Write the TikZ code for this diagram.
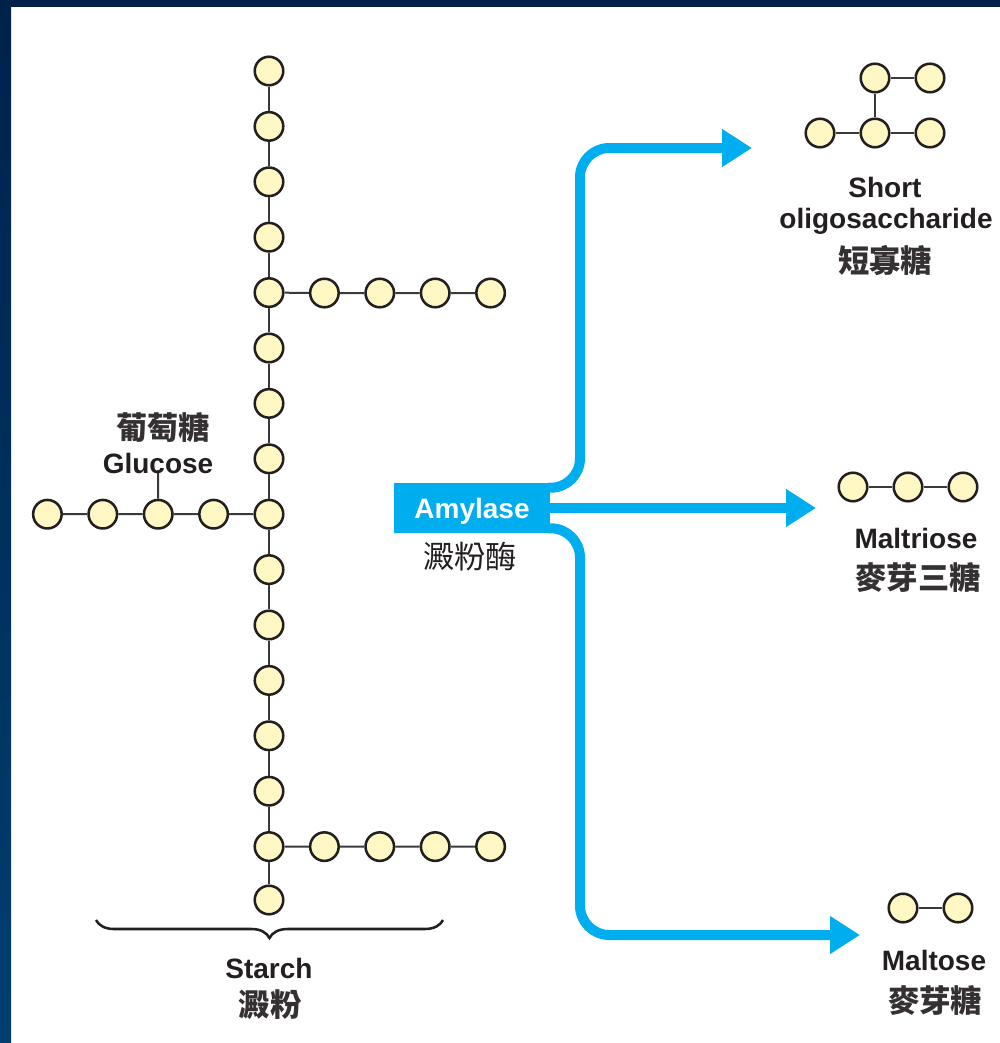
\documentclass[tikz,border=0pt]{standalone}
\usepackage{fontspec}
\setmainfont{Liberation Sans}
\newfontfamily\cjk{Noto Sans CJK TC}
\usetikzlibrary{arrows.meta,decorations.pathreplacing,calc}
\definecolor{navyA}{HTML}{00224A}
\definecolor{navyB}{HTML}{003F70}
\definecolor{cyanF}{HTML}{00AEEF}
\definecolor{sugar}{HTML}{FFF8C4}
\definecolor{ink}{HTML}{231F20}
\definecolor{bondc}{HTML}{3A3A3A}
\begin{document}
\begin{tikzpicture}[x=0.75pt,y=-0.75pt,
  glc/.style={circle,draw=ink,fill=sugar,line width=1.9pt,minimum size=21.4pt,inner sep=0pt},
  bond/.style={draw=bondc,line width=1.5pt},
  flow/.style={draw=cyanF,line width=7.5pt,-{Triangle[length=22.5pt,width=27pt]}},
  lab/.style={font=\bfseries\fontsize{21}{25}\selectfont,text=ink,inner sep=0pt,anchor=base},
  cjklab/.style={font=\cjk\bfseries\fontsize{23.5}{28}\selectfont,text=ink!92,inner sep=0pt},
  cjkreg/.style={font=\cjk\fontsize{23.5}{28}\selectfont,text=ink,inner sep=0pt},
  enzbox/.style={fill=cyanF,text=white,font=\bfseries\fontsize{21}{25}\selectfont,
    minimum width=117pt,minimum height=37.5pt,inner sep=0pt,text height=15pt,text depth=0pt},
]
\useasboundingbox (0,0) rectangle (1000,1043);
\fill[white] (0,0) rectangle (1000,1043);
\shade[top color=navyA,bottom color=navyB] (0,0) rectangle (11,1043);
\fill[navyA] (0,0) rectangle (1000,7);

% starch main chain
\foreach \i in {0,...,14} \node[glc] (s\i) at (269,{71+\i*55.4}) {};
\node[glc] (s15) at (269,900) {};
\foreach \i [count=\j] in {0,...,14} \draw[bond] (s\i) -- (s\j);
% branches
\foreach \k in {1,...,4} {
  \node[glc] (a\k) at ({269+\k*55.4},293) {};
  \node[glc] (b\k) at ({269+\k*55.4},846.6) {};
  \node[glc] (l\k) at ({269-\k*55.4},514.2) {};
}
\draw[bond] (s4) -- (a1) -- (a2) -- (a3) -- (a4);
\draw[bond] (s14) -- (b1) -- (b2) -- (b3) -- (b4);
\draw[bond] (s8) -- (l1) -- (l2) -- (l3) -- (l4);

% glucose label
\coordinate (gtip) at (158,470);
\draw[bond] (l2) -- (gtip);
\node[cjklab] (tglcz) at (163,427) {葡萄糖};
\node[lab] (tglc) at (158,473) {Glucose};

% brace
\draw[ink,line width=1.9pt,decorate,decoration={brace,mirror,amplitude=13.5pt}] (96,920) -- (443,920);
\node[lab] (tstarch) at (269,978) {Starch};
\node[cjklab] (tstarchz) at (270,1005) {澱粉};

% amylase
\node[enzbox] (amy) at (472,508) {Amylase};
\node[cjkreg] (amyz) at (470,557) {澱粉酶};

\coordinate (tipA) at (752,148);
\coordinate (tipB) at (816,508);
\coordinate (tipC) at (860,935);
\coordinate (trunk) at (580,508);
\draw[flow,rounded corners=22pt] ([xshift=-1.5pt,yshift=-3.75pt]amy.north east) -| (trunk |- tipA) -- (tipA);
\draw[flow] ([xshift=-1.5pt]amy.east) -- (tipB);
\draw[flow,rounded corners=22pt] ([xshift=-1.5pt,yshift=3.75pt]amy.south east) -| (trunk |- tipC) -- (tipC);

% short oligosaccharide
\node[glc] (o1) at (820,133) {};
\node[glc] (o2) at (875,133) {};
\node[glc] (o3) at (930,133) {};
\node[glc] (o4) at (875,78) {};
\node[glc] (o5) at (930,78) {};
\draw[bond] (o1) -- (o2) -- (o3);
\draw[bond] (o2) -- (o4) -- (o5);
\node[lab] (tshort) at (885,197) {Short};
\node[lab] (toligo) at (886,228) {oligosaccharide};
\node[cjklab] (toligoz) at (885,261) {短寡糖};

% maltriose
\node[glc] (t1) at (853,487) {};
\node[glc] (t2) at (908,487) {};
\node[glc] (t3) at (963,487) {};
\draw[bond] (t1) -- (t2) -- (t3);
\node[lab] (ttri) at (916,548) {Maltriose};
\node[cjklab] (ttriz) at (918,578) {麥芽三糖};

% maltose
\node[glc] (m1) at (903,908) {};
\node[glc] (m2) at (958,908) {};
\draw[bond] (m1) -- (m2);
\node[lab] (tmal) at (934,970) {Maltose};
\node[cjklab] (tmalz) at (935,1001) {麥芽糖};
\end{tikzpicture}
\end{document}
